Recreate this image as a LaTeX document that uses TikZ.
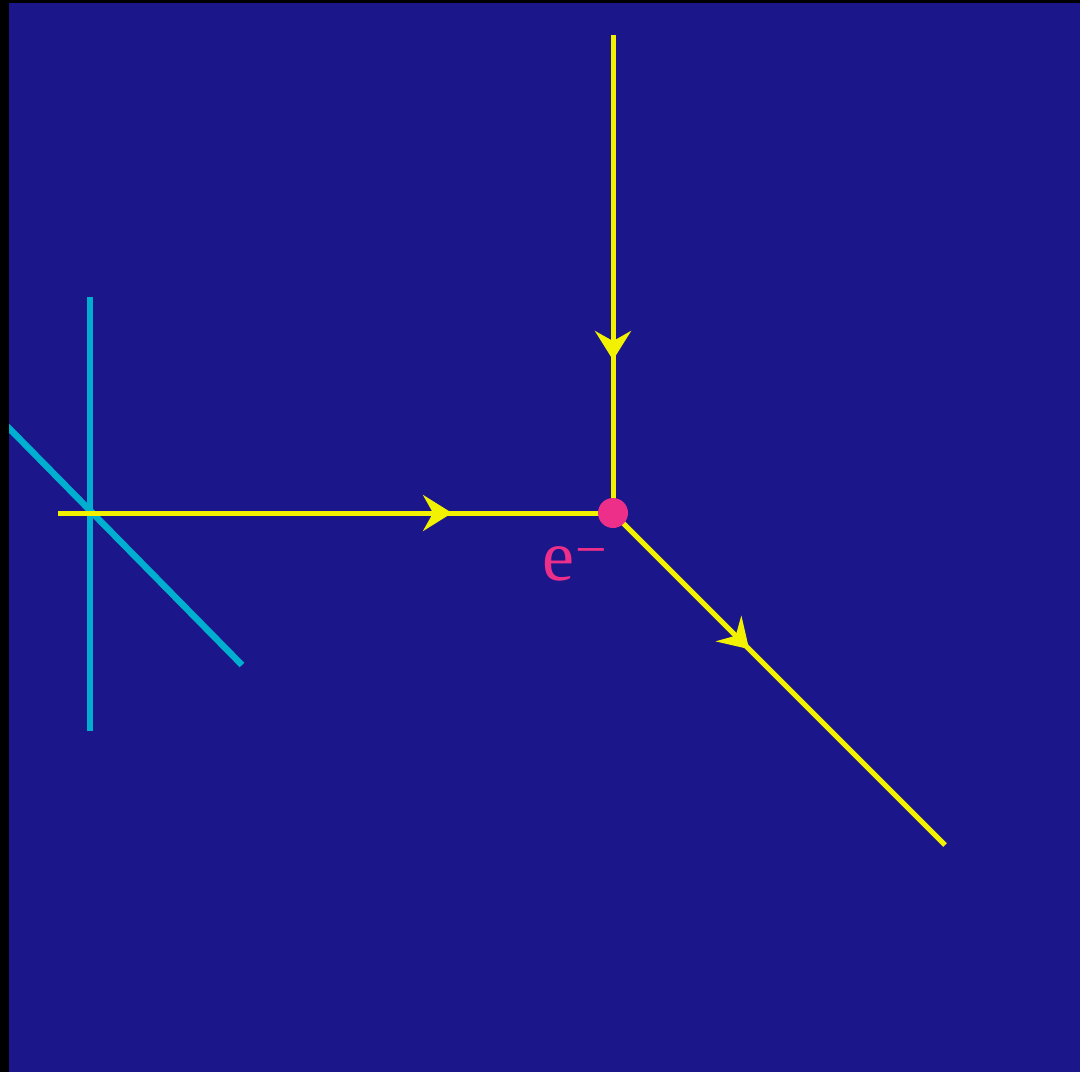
\documentclass[tikz,border=0pt]{standalone}
\usepackage{fontspec}
\setmainfont{Liberation Serif}
\usetikzlibrary{arrows.meta,decorations.markings}
\definecolor{bgblue}{HTML}{1B168A}
\definecolor{ylw}{HTML}{F2F200}
\definecolor{cyn}{HTML}{00AED0}
\definecolor{pnk}{HTML}{EE2F8A}
\tikzset{
  fermion/.style={draw=ylw, line width=5pt, line cap=butt,
    postaction={decorate, decoration={markings,
      mark=at position #1 with {\arrow[ylw]{Stealth[length=29pt,width=36pt,inset=10pt]}}}}},
  photon/.style={draw=cyn, line width=6.5pt},
  vertexdot/.style={circle, fill=pnk, inner sep=0pt, minimum size=30pt},
  lbl/.style={text=pnk, font=\fontsize{72}{80}\selectfont, inner sep=0pt}
}
\begin{document}
\begin{tikzpicture}[x=1pt,y=-1pt]
  \useasboundingbox (0,0) rectangle (1080,1072);
  \fill[black] (0,0) rectangle (1080,1072);
  \fill[bgblue] (9,3) rectangle (1080,1072);
  \begin{scope}
    \clip (9,3) rectangle (1080,1072);
    \coordinate (c1) at (90,297);
    \coordinate (c2) at (90,731);
    \coordinate (d1) at (0,419);
    \coordinate (d2) at (242,665);
    \draw[photon] (c1) -- (c2);
    \draw[photon] (d1) -- (d2);
  \end{scope}
  \coordinate (top) at (613,35);
  \coordinate (left) at (58,513);
  \coordinate (out) at (945,845);
  \coordinate (vc) at (613,513);
  \draw[fermion=0.68] (top) -- (vc);
  \draw[fermion=0.71] (left) -- (vc);
  \draw[fermion=0.41] (vc) -- (out);
  \node[vertexdot] (v) at (vc) {};
  \node[lbl, anchor=base west] (e) at (542,580) {e\kern1pt\raisebox{12pt}{\fontsize{56}{60}\selectfont −}};
\end{tikzpicture}
\end{document}
